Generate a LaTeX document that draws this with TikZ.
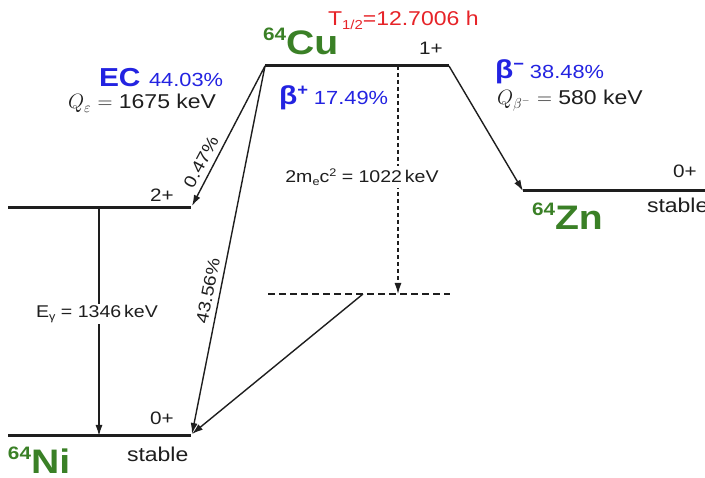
\documentclass[tikz,border=0pt]{standalone}
\usepackage{fontspec}
\setmainfont{Liberation Sans}[FakeStretch=1.15]
\usetikzlibrary{arrows.meta}
\newcommand\myfs[1]{\fontsize{#1}{#1}\selectfont}
\definecolor{nucgreen}{RGB}{58,128,38}
\definecolor{decblue}{RGB}{35,35,225}
\definecolor{halfred}{RGB}{230,35,40}
\definecolor{txt}{RGB}{30,30,30}
\begin{document}
\begin{tikzpicture}[x=1pt,y=-1pt,
  lbl/.style={inner sep=0pt,outer sep=0pt,text=txt},
  level/.style={line width=3pt,txt},
  dlevel/.style={line width=2.2pt,txt,dash pattern=on 7pt off 4pt},
  trans/.style={line width=1.4pt,txt,-{Latex[length=11pt,width=7pt]}},
  dtrans/.style={line width=1.3pt,txt,dash pattern=on 4pt off 3pt,-{Latex[length=11pt,width=7pt]}},
  nuc/.style={lbl,anchor=base west,text=nucgreen,font=\myfs{34}\bfseries}]
\useasboundingbox (0,0) rectangle (705,478);
% coordinates
\coordinate (cuL) at (265,66);
\coordinate (cuR) at (449,66);
\coordinate (cuD) at (398,66);
\coordinate (n2L) at (8,208);
\coordinate (n2R) at (191,208);
\coordinate (n2T) at (192,206);
\coordinate (g2) at (99,208);
\coordinate (n0L) at (8,436);
\coordinate (n0R) at (191,436);
\coordinate (n0T) at (192,434);
\coordinate (g0) at (99,436);
\coordinate (znL) at (523,191);
\coordinate (znR) at (705,191);
\coordinate (dL) at (268,294);
\coordinate (dR) at (450,294);
\coordinate (dD) at (398,294);
\coordinate (dS) at (363,294);
% levels
\draw[level] (cuL) -- (cuR);
\draw[level] (n2L) -- (n2R);
\draw[level] (n0L) -- (n0R);
\draw[level] (znL) -- (znR);
\draw[dlevel] (dL) -- (dR);
% transitions
\draw[trans] (cuL) -- (n2T);
\draw[trans] (cuL) -- (n0T);
\draw[trans] (cuR) -- (znL);
\draw[trans] (dS) -- (n0T);
\draw[trans] (g2) -- (g0);
\draw[dtrans] (cuD) -- (dD);
% labels on transitions
\node[lbl,fill=white,inner sep=1pt,font=\myfs{17}] (eg) at (97,314) {E\raisebox{-3pt}{\myfs{11}γ} = 1346\,keV};
\node[lbl,fill=white,inner ysep=3pt,inner xsep=1pt,font=\myfs{17}] (me) at (362,177) {2m\raisebox{-3pt}{\myfs{11}e}c\raisebox{6pt}{\myfs{11}2} = 1022\,keV};
\node[lbl,rotate=62,font=\myfs{17}] (p1) at (201,162) {0.47\%};
\node[lbl,rotate=79,font=\myfs{17}] (p2) at (208,291) {43.56\%};
% nuclide names
\node[nuc] (cu) at (263,55) {\raisebox{14pt}{\myfs{18}64}Cu};
\node[nuc] (ni) at (8,474) {\raisebox{14pt}{\myfs{18}64}Ni};
\node[nuc] (zn) at (532,230) {\raisebox{14pt}{\myfs{18}64}Zn};
\node[lbl,anchor=base west,text=halfred,font=\myfs{20}] (th) at (328,26) {T\raisebox{-4pt}{\myfs{13}1/2}=12.7006 h};
% spins
\node[lbl,anchor=base west,font=\myfs{18}] (s1) at (419,55) {1+};
\node[lbl,anchor=base west,font=\myfs{18}] (s2) at (150,202) {2+};
\node[lbl,anchor=base west,font=\myfs{18}] (s0) at (150,425) {0+};
\node[lbl,anchor=base west,font=\myfs{18}] (sz) at (673,178) {0+};
\node[lbl,anchor=base west,font=\myfs{20}] (st1) at (127,462) {stable};
\node[lbl,anchor=base west,font=\myfs{20}] (st2) at (647,213) {stable};
% decay modes
\node[lbl,anchor=base west,text=decblue,font=\myfs{26}\bfseries] (ec) at (99,87) {EC};
\node[lbl,anchor=base west,text=decblue,font=\myfs{19}] (ecp) at (149,87) {44.03\%};
\node[lbl,anchor=base west,font=\myfs{20}] (qe) at (68,109) {$Q_\varepsilon$ $=$ 1675 keV};
\node[lbl,anchor=base west,text=decblue] (bp) at (279,105) {{\myfs{26}\bfseries β\raisebox{9pt}{\myfs{16}+}}\hspace{6pt}{\myfs{19}17.49\%}};
\node[lbl,anchor=base west,text=decblue] (bm) at (495,79) {{\myfs{26}\bfseries β\raisebox{9pt}{\myfs{16}−}}\hspace{6pt}{\myfs{19}38.48\%}};
\node[lbl,anchor=base west,font=\myfs{20}] (qb) at (497,105) {$Q_{\beta^-}$ $=$ 580 keV};
\end{tikzpicture}
\end{document}
